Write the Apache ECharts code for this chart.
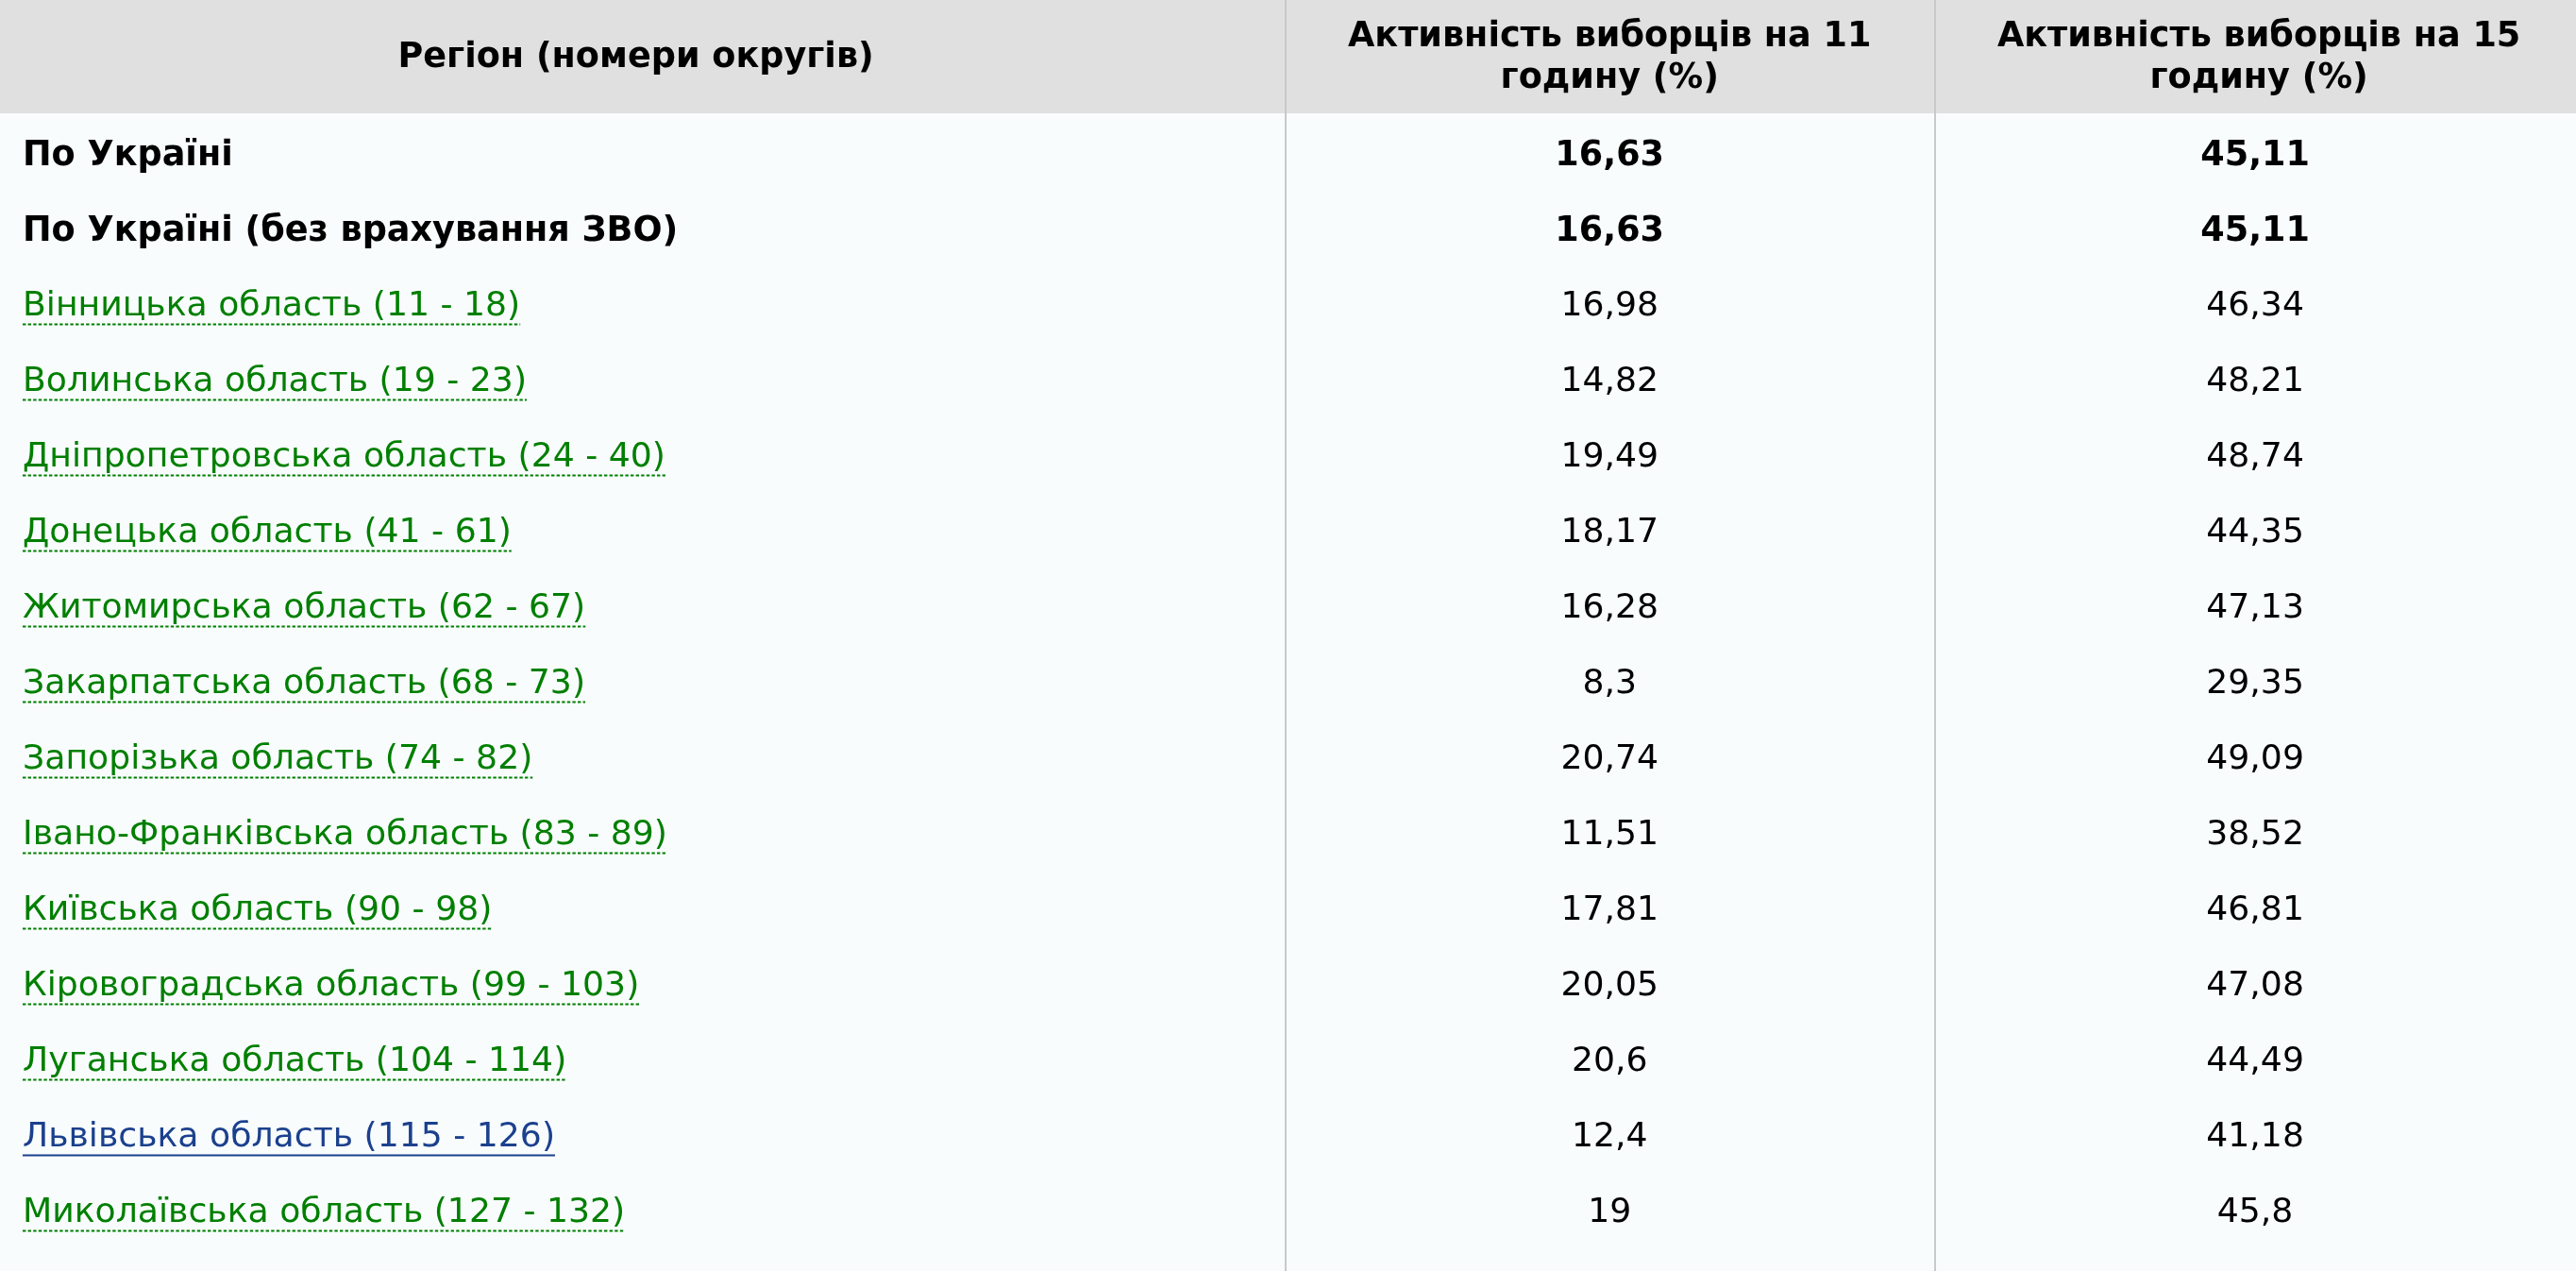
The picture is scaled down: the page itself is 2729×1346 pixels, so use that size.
<!DOCTYPE html>
<html>
<head>
<meta charset="utf-8">
<script src="https://cdn.jsdelivr.net/npm/echarts@6/dist/echarts.min.js"></script>
<style>
html,body{margin:0;padding:0;background:#f8fcfd;}
#chart{width:2729px;height:1346px;}
</style>
</head>
<body>
<div id="chart"></div>
<script>
// ---------- DATA ----------
const headers = [
  'Регіон (номери округів)',
  'Активність виборців на 11\nгодину (%)',
  'Активність виборців на 15\nгодину (%)'
];
const regions = [
  'По Україні',
  'По Україні (без врахування ЗВО)',
  'Вінницька область (11 - 18)',
  'Волинська область (19 - 23)',
  'Дніпропетровська область (24 - 40)',
  'Донецька область (41 - 61)',
  'Житомирська область (62 - 67)',
  'Закарпатська область (68 - 73)',
  'Запорізька область (74 - 82)',
  'Івано-Франківська область (83 - 89)',
  'Київська область (90 - 98)',
  'Кіровоградська область (99 - 103)',
  'Луганська область (104 - 114)',
  'Львівська область (115 - 126)',
  'Миколаївська область (127 - 132)'
];
const turnout11 = [16.63, 16.63, 16.98, 14.82, 19.49, 18.17, 16.28, 8.3, 20.74, 11.51, 17.81, 20.05, 20.6, 12.4, 19];
const turnout15 = [45.11, 45.11, 46.34, 48.21, 48.74, 44.35, 47.13, 29.35, 49.09, 38.52, 46.81, 47.08, 44.49, 41.18, 45.8];
const visitedRegion = 'Львівська область (115 - 126)';

// ---------- LAYOUT / STYLE ----------
const colEdges = [0, 0.4988, 0.7509, 1];
const headerDx = [-7, 0, 4];
const HEADER_H = 120;
const ROW_H = 80;
const BODY_TOP = 122;
const FONT = '"DejaVu Sans", Verdana, sans-serif';
const FS = 36.2;
const FSB = 36.6;
const HFS = 36.6;
const TEXT_DY = 3;
const UNDERLINE_DY = 21.5;
const GREEN = '#007f00';
const BLUE = '#1b408d';

const fmt = v => String(v).replace('.', ',');
const measure = (() => {
  const c = document.createElement('canvas').getContext('2d');
  return (t, weight, size) => { c.font = (weight || 'normal') + ' ' + size + 'px ' + FONT; return c.measureText(t).width; };
})();

const chart = echarts.init(document.getElementById('chart'), null, {renderer: 'canvas'});

const bodyRows = regions.map((_, i) => [0, i]);

chart.setOption({
  backgroundColor: '#f8fcfd',
  animation: false,
  grid: [
    {left: 0, right: 0, top: BODY_TOP, height: ROW_H * regions.length, show: false},
    {left: 0, right: 0, top: 0, height: HEADER_H, show: true, backgroundColor: '#e0e0e0', borderWidth: 0},
    {left: 0, right: 0, top: 0, bottom: 0, show: false}
  ],
  xAxis: [0, 1, 2].map(g => ({type: 'value', gridIndex: g, min: 0, max: 1, show: false})),
  yAxis: [
    {type: 'category', gridIndex: 0, data: regions, inverse: true, show: false},
    {type: 'category', gridIndex: 1, data: ['header'], show: false},
    {type: 'value', gridIndex: 2, min: 0, max: 1, show: false}
  ],
  series: [
    {
      type: 'custom', xAxisIndex: 1, yAxisIndex: 1, data: [[0, 0]], silent: true, z: 3,
      renderItem: (params, api) => {
        const y = api.coord([0, 0])[1];
        const children = headers.map((h, c) => ({
          type: 'text',
          x: api.coord([(colEdges[c] + colEdges[c + 1]) / 2, 0])[0] + headerDx[c],
          y: y + 1,
          style: {text: h, fill: '#000', fontSize: HFS, fontFamily: FONT, fontWeight: 'bold',
                  align: 'center', verticalAlign: 'middle', lineHeight: 44}
        }));
        return {type: 'group', children};
      }
    },
    {
      type: 'custom', xAxisIndex: 2, yAxisIndex: 2, data: [[0, 0]], silent: true, z: 4,
      renderItem: (params, api) => {
        const cs = params.coordSys;
        const children = [colEdges[1], colEdges[2]].map(e => {
          const x = Math.round(api.coord([e, 0])[0]) + 1;
          return {type: 'line', shape: {x1: x, y1: cs.y, x2: x, y2: cs.y + cs.height},
                  style: {stroke: '#c9c9c9', lineWidth: 2}};
        });
        return {type: 'group', children};
      }
    },
    {
      type: 'custom', xAxisIndex: 0, yAxisIndex: 0, data: bodyRows, silent: true, z: 5,
      renderItem: (params, api) => {
        const i = params.dataIndex;
        const name = regions[i];
        const y = api.coord([0, i])[1];
        const isTotal = name.indexOf('По Україні') === 0;
        const visited = name === visitedRegion;
        const weight = isTotal ? 'bold' : 'normal';
        const size = isTotal ? FSB : FS;
        const x0 = api.coord([colEdges[0], i])[0] + 24;
        const color = isTotal ? '#000' : (visited ? BLUE : GREEN);
        const ty = y + TEXT_DY;
        const children = [
          {type: 'text', x: x0, y: ty,
           style: {text: name, fill: color, fontSize: size, fontFamily: FONT, fontWeight: weight,
                   align: 'left', verticalAlign: 'middle'}},
          {type: 'text', x: api.coord([(colEdges[1] + colEdges[2]) / 2, i])[0], y: ty,
           style: {text: fmt(turnout11[i]), fill: '#000', fontSize: size, fontFamily: FONT, fontWeight: weight,
                   align: 'center', verticalAlign: 'middle'}},
          {type: 'text', x: api.coord([(colEdges[2] + colEdges[3]) / 2, i])[0], y: ty,
           style: {text: fmt(turnout15[i]), fill: '#000', fontSize: size, fontFamily: FONT, fontWeight: weight,
                   align: 'center', verticalAlign: 'middle'}}
        ];
        if (!isTotal) {
          const w = measure(name, weight, size);
          children.push({type: 'line',
            shape: {x1: x0, y1: y + UNDERLINE_DY, x2: x0 + w, y2: y + UNDERLINE_DY},
            style: {stroke: color, lineWidth: 2.2, lineDash: visited ? null : [3.4, 2.2]}});
        }
        return {type: 'group', children};
      }
    }
  ]
});
</script>
</body>
</html>
